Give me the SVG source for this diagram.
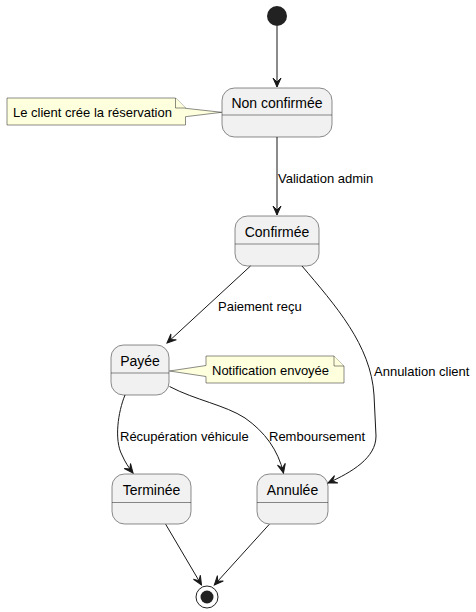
<svg xmlns="http://www.w3.org/2000/svg" width="476" height="612" viewBox="0 0 476 612">
<style>
.st{fill:#F1F1F1;stroke:#181818;stroke-width:0.5}
.sep{stroke:#181818;stroke-width:0.5}
.nt{fill:#FEFFDD;stroke:#181818;stroke-width:0.5}
.name{font-family:"Liberation Sans",Arial,sans-serif;font-size:14px;fill:#000;text-anchor:middle}
.lbl{font-family:"Liberation Sans",Arial,sans-serif;font-size:13px;fill:#000}
.ln{fill:none;stroke:#181818;stroke-width:1;marker-end:url(#ah)}
</style>
<defs>
<marker id="ah" viewBox="-10 -5 11 10" refX="0" refY="0" markerWidth="11" markerHeight="10" markerUnits="userSpaceOnUse" orient="auto">
<path d="M0,0 L-9,-4 L-5,0 L-9,4 Z" fill="#181818" stroke="#181818" stroke-width="1"/>
</marker>
</defs>
<rect width="476" height="612" fill="#FFFFFF"/>
<g id="start"><circle cx="277" cy="16" r="10" fill="#222222"/></g>
<g id="end"><circle cx="207" cy="597" r="11" fill="none" stroke="#222222" stroke-width="1"/><circle cx="207" cy="597" r="6.5" fill="#222222"/></g>
<g id="nonconfirmee"><rect class="st" x="222" y="88" width="110" height="49" rx="12.5"/><line class="sep" x1="222" y1="115" x2="332" y2="115"/><text class="name" x="277" y="108">Non confirmée</text></g>
<g id="confirmee"><rect class="st" x="235" y="216" width="84" height="50" rx="12.5"/><line class="sep" x1="235" y1="244" x2="319" y2="244"/><text class="name" x="277" y="237">Confirmée</text></g>
<g id="payee"><rect class="st" x="111" y="345" width="58" height="50" rx="12.5"/><line class="sep" x1="111" y1="373" x2="169" y2="373"/><text class="name" x="140" y="366">Payée</text></g>
<g id="terminee"><rect class="st" x="112" y="474" width="79" height="50" rx="12.5"/><line class="sep" x1="112" y1="502.5" x2="191" y2="502.5"/><text class="name" x="151.5" y="495">Terminée</text></g>
<g id="annulee"><rect class="st" x="257" y="474" width="71" height="50" rx="12.5"/><line class="sep" x1="257" y1="502.5" x2="328" y2="502.5"/><text class="name" x="292.5" y="495">Annulée</text></g>
<g id="note1"><path class="nt" d="M7,98 L175.5,98 L185.5,108 L185.5,108.3 L221.7,112.3 L185.5,116.7 L185.5,125 L7,125 Z"/><path class="nt" d="M175.5,98 L175.5,108 L185.5,108"/><text class="lbl" x="13" y="116.5">Le client crée la réservation</text></g>
<g id="note2"><path class="nt" d="M206,356 L334,356 L344,366 L344,383 L206,383 L206,376.5 L169.5,371 L206,365.5 Z"/><path class="nt" d="M334,356 L334,366 L344,366"/><text class="lbl" x="212" y="374.5">Notification envoyée</text></g>
<g id="connectors">
<path class="ln" d="M277,26 L277,87"/>
<path class="ln" d="M277,137 L277,215"/>
<path class="ln" d="M250.5,266 L167,343"/>
<path class="ln" d="M302,266 C335,305 371,345 374,395 L376,436 C376,458 352,472 328,483"/>
<path class="ln" d="M125,395 C118,412 114,440 122,455 C125,462 129,468 133,473"/>
<path class="ln" d="M169.5,386.5 C195,400 225,405 245,418 C265,432 278,450 283.5,473"/>
<path class="ln" d="M165.7,524.3 L201.5,585"/>
<path class="ln" d="M269.3,524.3 L214.3,585"/>
<text class="lbl" x="278" y="183">Validation admin</text>
<text class="lbl" x="218" y="311">Paiement reçu</text>
<text class="lbl" x="374" y="376">Annulation client</text>
<text class="lbl" x="120" y="441">Récupération véhicule</text>
<text class="lbl" x="269" y="441">Remboursement</text>
</g>
</svg>
